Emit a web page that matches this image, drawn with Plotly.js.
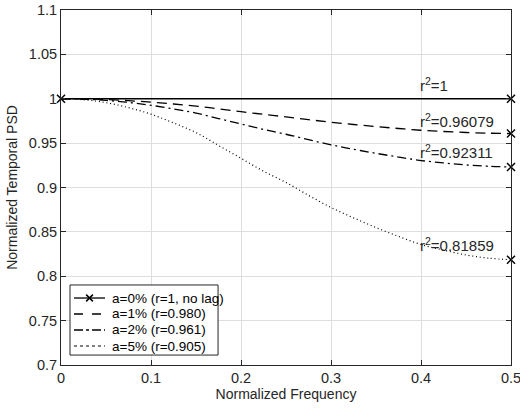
<!DOCTYPE html>
<html><head><meta charset="utf-8">
<script src="https://cdn.plot.ly/plotly-3.0.1.min.js"></script>
<style>html,body{margin:0;padding:0;background:#fff}#plot{width:520px;height:411px}</style>
</head><body><div id="plot"></div>
<script>
const freq = [0,0.025,0.05,0.075,0.1,0.125,0.15,0.175,0.2,0.225,0.25,0.275,0.3,0.325,0.35,0.375,0.4,0.425,0.45,0.475,0.5];
const psd0 = [1,1,1,1,1,1,1,1,1,1,1,1,1,1,1,1,1,1,1,1,1];
const psd1 = [1,0.9998,0.9991,0.9978,0.9962,0.9941,0.9918,0.9886,0.9855,0.9824,0.9796,0.9765,0.9735,0.9710,0.9686,0.9665,0.9645,0.9631,0.9620,0.9612,0.96079];
const psd2 = [1,0.9995,0.9982,0.9958,0.9926,0.9885,0.9839,0.9777,0.9716,0.9654,0.9600,0.9539,0.9481,0.9431,0.9385,0.9343,0.9304,0.9277,0.9254,0.9239,0.92311];
const psd5 = [1,0.9989,0.9956,0.9900,0.9826,0.9728,0.9619,0.9474,0.9329,0.9184,0.9057,0.8912,0.8775,0.8658,0.8549,0.8449,0.8358,0.8295,0.8240,0.8204,0.81859];
const seriesNames = ["a=0% (r=1, no lag)","a=1% (r=0.980)","a=2% (r=0.961)","a=5% (r=0.905)"];
const r2Labels = ["r<sup>2</sup>=1","r<sup>2</sup>=0.96079","r<sup>2</sup>=0.92311","r<sup>2</sup>=0.81859"];
const labelX = [0.4,0.4,0.4,0.4];
const labelY = [1.016,0.976,0.9405,0.8355];
const xTicks = [0,0.1,0.2,0.3,0.4,0.5];
const yTicks = [0.7,0.75,0.8,0.85,0.9,0.95,1,1.05,1.1];

const all = [psd0,psd1,psd2,psd5];
const dashes = ["solid","10px,6px","9px,4px,2px,4px","1px,2.8px"];
const widths = [1.3,1.3,1.3,1.2];
const mk = {symbol:"x-thin",size:8,color:"#000",line:{width:1.5,color:"#000"}};
const traces = [];
all.forEach((ys,i)=>{
  traces.push({x:freq,y:ys,type:"scatter",mode:"lines",name:seriesNames[i],
    line:{color:"#000",width:widths[i],dash:dashes[i],shape:"spline"},showlegend:false});
});
traces.push({x:[freq[0],freq[freq.length-1],freq[freq.length-1],freq[freq.length-1],freq[freq.length-1]],
  y:[psd0[0],psd0[psd0.length-1],psd1[psd1.length-1],psd2[psd2.length-1],psd5[psd5.length-1]],
  type:"scatter",mode:"markers",marker:mk,showlegend:false,hoverinfo:"skip",cliponaxis:false});

const fontF = "Arial";
const annotations = r2Labels.map((t,i)=>({x:labelX[i],y:labelY[i],xref:"x",yref:"y",text:t,showarrow:false,
  xanchor:"left",yanchor:"middle",xshift:-3,font:{family:fontF,size:15,color:"#262626"}}));

// custom legend (layout only)
const leg = {x0:0.02,x1:0.349,y0:0.028,y1:0.2254,rows:[0.1887,0.1437,0.0986,0.0535],sx0:0.0289,sx1:0.0978,tx:0.1089};
const shapes = [{type:"rect",xref:"paper",yref:"paper",x0:leg.x0,x1:leg.x1,y0:leg.y0,y1:leg.y1,
  fillcolor:"#fff",line:{color:"#262626",width:1}}];
const legDash = ["solid","dash","dashdot","dot"];
seriesNames.forEach((n,i)=>{
  shapes.push({type:"line",xref:"paper",yref:"paper",x0:leg.sx0,x1:leg.sx1,y0:leg.rows[i],y1:leg.rows[i],
    line:{color:"#000",width:i===3?1:1.3,dash:legDash[i]}});
  annotations.push({xref:"paper",yref:"paper",x:leg.tx,y:leg.rows[i],text:n,showarrow:false,xanchor:"left",yanchor:"middle",
    font:{family:fontF,size:13.5,color:"#000"}});
});
const cx=(leg.sx0+leg.sx1)/2, cy=leg.rows[0], dx=0.0075, dy=0.0095;
shapes.push({type:"path",xref:"paper",yref:"paper",
  path:`M ${cx-dx} ${cy-dy} L ${cx+dx} ${cy+dy} M ${cx-dx} ${cy+dy} L ${cx+dx} ${cy-dy}`,line:{color:"#000",width:1.5}});

const axBase = {showline:true,linecolor:"#262626",linewidth:1,mirror:"ticks",ticks:"inside",ticklen:5,
  tickcolor:"#262626",showgrid:true,gridcolor:"#dedede",gridwidth:1,zeroline:false,ticklabeloverflow:"allow",
  tickfont:{family:fontF,size:14.5,color:"#262626"}};
const layout = {
  width:520,height:411,margin:{l:61,r:9,t:10,b:46},paper_bgcolor:"#fff",plot_bgcolor:"#fff",
  font:{family:fontF,color:"#262626"},
  xaxis:Object.assign({},axBase,{range:[-0.000001,0.500001],tickvals:xTicks,ticktext:xTicks.map(v=>String(v)),
    title:{text:"Normalized Frequency",font:{family:fontF,size:14,color:"#262626"},standoff:3}}),
  yaxis:Object.assign({},axBase,{range:[0.7,1.1],tickvals:yTicks,ticktext:yTicks.map(v=>String(v)),
    title:{text:"Normalized Temporal PSD",font:{family:fontF,size:14,color:"#262626"},standoff:7}}),
  annotations:annotations,shapes:shapes,showlegend:false
};
Plotly.newPlot("plot",traces,layout,{staticPlot:true,displayModeBar:false});
</script></body></html>
